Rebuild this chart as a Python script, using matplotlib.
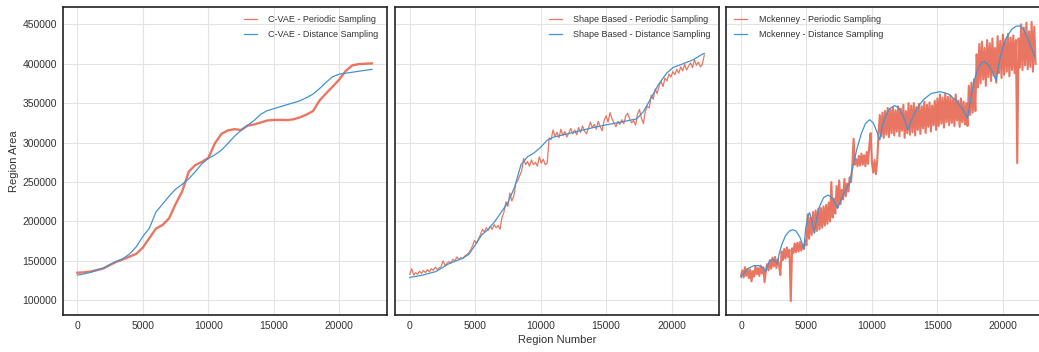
import numpy as np
import matplotlib
matplotlib.use("Agg")
import matplotlib.pyplot as plt

# ---------------- data (region area in thousands) ----------------
step_x = np.arange(0, 22501, 500)

cvae_periodic_k = [135, 135.5, 136.5, 138.5, 140.5, 145, 149, 152, 155.5, 159,
                   167, 179, 191, 195.5, 204, 222, 238, 263, 271.5, 275.5,
                   280.5, 299, 311, 315.5, 317, 316, 321.5, 323, 325.5, 328,
                   328.7, 328.8, 328.5, 329.5, 332, 335.5, 340, 353.5, 362.5, 371,
                   380, 391, 398, 399.5, 400, 400.4]
cvae_distance_k = [132, 133.5, 135.5, 138, 141, 145.5, 149.5, 153, 159, 168,
                   181, 191.5, 212, 222, 232, 241, 247, 254, 263, 273,
                   280, 284.5, 290.5, 299, 308, 315.5, 322, 328, 336, 340.5,
                   343, 345.5, 348, 350.5, 353, 357, 361.5, 368.5, 376.5, 383.5,
                   386.7, 388, 389.2, 390.5, 391.7, 392.8]

shape_x = np.arange(0, 22501, 150)
shape_periodic_k = [133, 140, 132, 135, 133, 137, 134, 138, 135, 139,
                    136, 140, 138, 142, 139, 141, 143, 150, 144, 147,
                    149, 147, 152, 150, 155, 152, 154, 153, 156, 158,
                    160, 164, 169, 176, 172, 178, 183, 190, 187, 192,
                    189, 194, 190, 196, 192, 195, 190, 205, 212, 225,
                    219, 236, 226, 232, 248, 252, 258, 264, 280, 272,
                    276, 270, 278, 272, 275, 270, 282, 274, 279, 272,
                    274, 306, 304, 316, 308, 313, 306, 317, 309, 314,
                    307, 312, 318, 311, 316, 310, 319, 313, 321, 315,
                    311, 318, 326, 319, 323, 317, 327, 320, 315, 328,
                    334, 326, 338, 330, 325, 320, 327, 323, 329, 324,
                    334, 337, 330, 325, 328, 322, 336, 342, 331, 324,
                    340, 346, 344, 360, 355, 368, 362, 372, 378, 371,
                    382, 378, 387, 383, 390, 386, 393, 388, 396, 391,
                    399, 392, 397, 401, 395, 405, 398, 402, 396, 399,
                    411]
shape_distance_x = [0, 1000, 2000, 3000, 4000, 4500, 5000, 5500, 6000, 6500,
                    7000, 7500, 8000, 8500, 9000, 9500, 10000, 10500, 11000, 12000,
                    13000, 14000, 15000, 16000, 17000, 17330, 17840, 18350, 18980, 19620,
                    20130, 20890, 21650, 22410, 22500]
shape_distance_k = [129, 132, 136.5, 146.5, 153, 158, 170, 183, 190, 200,
                    212, 224, 243, 272, 282, 287, 294, 303, 307, 311,
                    315, 319, 322.5, 325.5, 329, 330, 339, 354, 373, 388,
                    395.3, 400, 405, 412.7, 413]

mck_x = np.arange(0, 22501, 100)
mck_periodic_k = [
    131, 138, 129, 142, 131, 140, 128, 139, 124, 137,
    130, 143, 133, 141, 131, 144, 134, 142, 123, 138,
    146, 138, 151, 140, 154, 143, 155, 141, 152, 145,
    132, 162, 151, 165, 153, 167, 155, 164, 99, 166,
    160, 172, 161, 173, 162, 174, 163, 171, 165, 176,
    170, 209, 178, 205, 183, 212, 186, 214, 188, 216,
    190, 217, 192, 219, 195, 221, 197, 224, 200, 250,
    205, 229, 210, 245, 218, 252, 222, 240, 228, 254,
    232, 248, 238, 256, 250, 270, 305, 272, 279, 270,
    283, 271, 286, 272, 284, 270, 288, 273, 296, 312,
    275, 262, 278, 260, 276, 310, 335, 308, 338, 306,
    340, 310, 344, 307, 342, 312, 345, 309, 341, 314,
    346, 308, 343, 315, 348, 306, 340, 312, 350, 310,
    347, 313, 350, 309, 345, 316, 349, 311, 346, 318,
    352, 312, 348, 320, 351, 314, 347, 322, 353, 316,
    356, 321, 361, 324, 357, 319, 362, 326, 358, 322,
    360, 325, 355, 321, 361, 328, 353, 320, 356, 326,
    352, 323, 350, 321, 372, 335, 376, 338, 380, 340,
    412, 370, 425, 375, 428, 380, 420, 372, 430, 383,
    426, 378, 432, 385, 420, 376, 435, 388, 429, 382,
    437, 386, 431, 390, 438, 384, 433, 392, 436, 388,
    430, 274, 432, 395, 450, 392, 446, 398, 452, 393,
    441, 396, 453, 390, 447, 400]
mck_distance_x = [0, 300, 600, 1000, 1400, 1700, 1870, 2000, 2200, 2400,
                  2600, 2780, 2900, 3100, 3400, 3700, 3950, 4200, 4500, 4800,
                  4950, 5100, 5230, 5400, 5600, 5800, 6000, 6300, 6630, 6900,
                  7150, 7370, 7600, 7850, 8100, 8300, 8450, 8600, 8900, 9200,
                  9500, 9820, 10100, 10350, 10600, 10800, 11050, 11350, 11730, 12050,
                  12400, 12750, 13000, 13400, 13900, 14500, 15170, 15800, 16400, 16900,
                  17300, 17550, 17800, 18100, 18400, 18620, 18900, 19200, 19480, 19700,
                  19950, 20300, 20700, 21000, 21290, 21600, 21900, 22200, 22440]
mck_distance_k = [129, 136, 141, 144, 144, 141, 136.5, 143, 150, 152,
                  150, 146.5, 158, 170, 182, 188, 189.5, 188, 180, 165.5,
                  192, 206, 211, 202, 185.5, 205, 219, 230, 233.5, 231,
                  224, 216.5, 226, 235, 244, 249, 262, 274, 295, 312,
                  324, 329, 325, 315, 303.5, 321, 334, 343, 347, 344,
                  333, 316, 328, 342, 354, 362, 364.6, 362, 354, 343,
                  330.8, 356, 378, 394, 401.5, 402.6, 398, 390, 378.5, 400,
                  418, 434, 444, 447.5, 448, 443, 432, 419, 409]

panels = [
    ("C-VAE", step_x, cvae_periodic_k, step_x, cvae_distance_k, "upper right", 1.7),
    ("Shape Based", shape_x, shape_periodic_k, shape_distance_x, shape_distance_k, "upper right", 0.9),
    ("Mckenney", mck_x, mck_periodic_k, mck_distance_x, mck_distance_k, "upper left", 1.5),
]

RED = "#e5583f"
BLUE = "#4393cf"

plt.rcParams["font.family"] = ["Liberation Sans", "DejaVu Sans"]

W, H = 1039, 352
fig = plt.figure(figsize=(W / 100, H / 100), dpi=100)
lefts = [62.7, 395.0, 726.3]
ax_w, ax_top, ax_bot = 324.0, 6.7, 315.0

axes = []
for i, (name, px, py, dx, dy, loc, lw_red) in enumerate(panels):
    ax = fig.add_axes([lefts[i] / W, (H - ax_bot) / H, ax_w / W, (ax_bot - ax_top) / H])
    axes.append(ax)
    ax.set_axisbelow(True)
    ax.grid(True, color="#e3e3e3", linewidth=0.8)
    ax.plot(px, np.asarray(py) * 1000, color=RED, lw=lw_red, alpha=0.82,
            label=f"{name} - Periodic Sampling")
    ax.plot(dx, np.asarray(dy) * 1000, color=BLUE, lw=0.9,
            label=f"{name} - Distance Sampling")
    ax.set_xlim(-1125, 23625)
    ax.set_ylim(81400, 472300)
    ax.set_xticks([0, 5000, 10000, 15000, 20000])
    ax.set_yticks(range(100000, 450001, 50000))
    ax.tick_params(length=0, labelsize=7.5, colors="#333333", pad=4.2)
    for s in ax.spines.values():
        s.set_color("#222222")
        s.set_linewidth(1.2)
    if i > 0:
        ax.tick_params(labelleft=False)
    leg = ax.legend(loc=loc, frameon=False, fontsize=6.5, handlelength=1.4,
                    borderaxespad=0.5, labelspacing=0.7, handletextpad=1.3)
    for t in leg.get_texts():
        t.set_color("#333333")
    for ln in leg.get_lines():
        ln.set_linewidth(0.9)

axes[0].set_ylabel("Region Area", fontsize=8, color="#333333")
axes[0].yaxis.set_label_coords(-0.136, 0.5)
axes[1].set_xlabel("Region Number", fontsize=8, color="#333333", labelpad=3)

fig.savefig("out.png", dpi=100)
